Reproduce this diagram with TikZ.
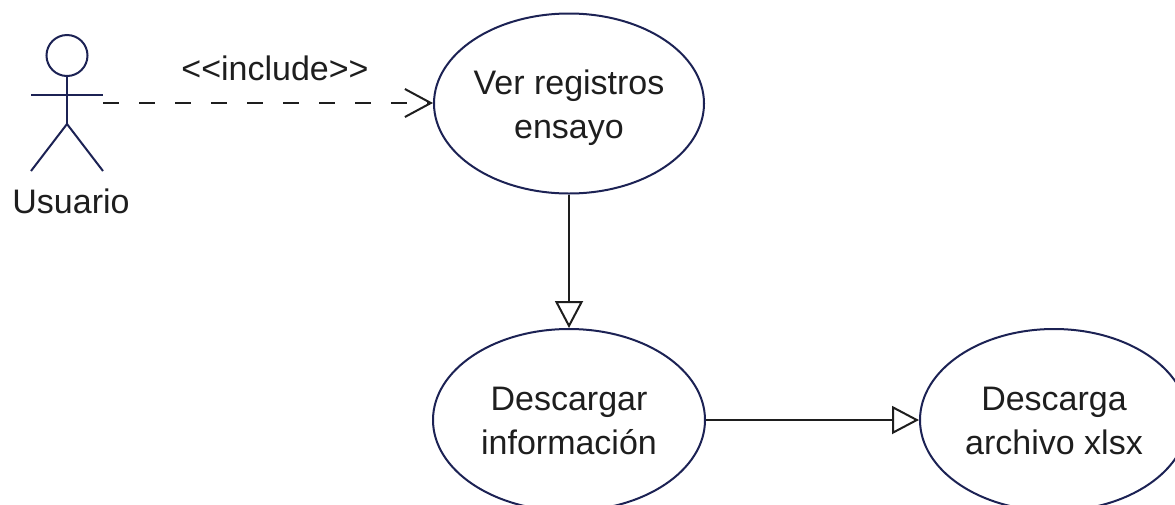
\documentclass[tikz,border=0pt]{standalone}
\usepackage{fontspec}
\setmainfont{Liberation Sans}
\usetikzlibrary{shapes.geometric,arrows.meta}
\definecolor{navy}{RGB}{28,34,84}
\definecolor{ink}{RGB}{30,30,30}
\newcommand{\topstrut}{\rule{0pt}{34pt}}
\newcommand{\botstrut}{\rule[-9pt]{0pt}{0pt}}
\begin{document}
\begin{tikzpicture}[x=1pt,y=-1pt,
  usecase/.style={ellipse,draw=navy,line width=2pt,inner xsep=-14pt,inner ysep=0pt,
    minimum width=270pt,minimum height=180pt,align=center,
    font=\fontsize{34}{44}\selectfont,text=ink},
  lbl/.style={font=\fontsize{34}{44}\selectfont,text=ink,inner sep=0pt},
  conn/.style={draw=ink,line width=2pt},
  actorline/.style={draw=navy,line width=2pt},
  gen/.style={-{Triangle[open,length=27pt,width=28pt,line width=2pt,fill=white]}},
  incl/.style={dash pattern=on 16pt off 20pt,-{Straight Barb[length=26pt,width=28pt,line width=2pt]}}]
\useasboundingbox (0,0) rectangle (1175,504);
% actor
\node[circle,draw=navy,line width=2pt,minimum size=41pt,inner sep=0pt] (head) at (67,55.5) {};
\coordinate (hip) at (67,124);
\coordinate (armL) at (31,95);
\coordinate (armR) at (103,95);
\coordinate (legL) at (31,171);
\coordinate (legR) at (103,171);
\draw[actorline] (head.south) -- (hip);
\draw[actorline] (armL) -- (armR);
\draw[actorline] (legL) -- (hip) -- (legR);
\node[lbl,anchor=base] (usuario) at (71,213) {Usuario};
\coordinate (actorR) at (103,103);
% use cases
\node[usecase] (ver) at (569,103.5) {\topstrut Ver registros\\ensayo\botstrut};
\node[usecase,minimum width=272pt,minimum height=182pt] (desc) at (569,420) {\topstrut Descargar\\información\botstrut};
\node[usecase,minimum width=268pt,minimum height=182pt] (xlsx) at (1054,420) {\topstrut Descarga\\archivo xlsx\botstrut};
% connectors
\draw[conn,incl] (actorR) -- (ver.west |- actorR);
\node[lbl,anchor=base] (inc) at (275,80) {<\kern0pt<include>\kern0pt>};
\draw[conn,gen] (ver) -- (desc);
\draw[conn,gen] (desc) -- (xlsx);
\end{tikzpicture}
\end{document}
